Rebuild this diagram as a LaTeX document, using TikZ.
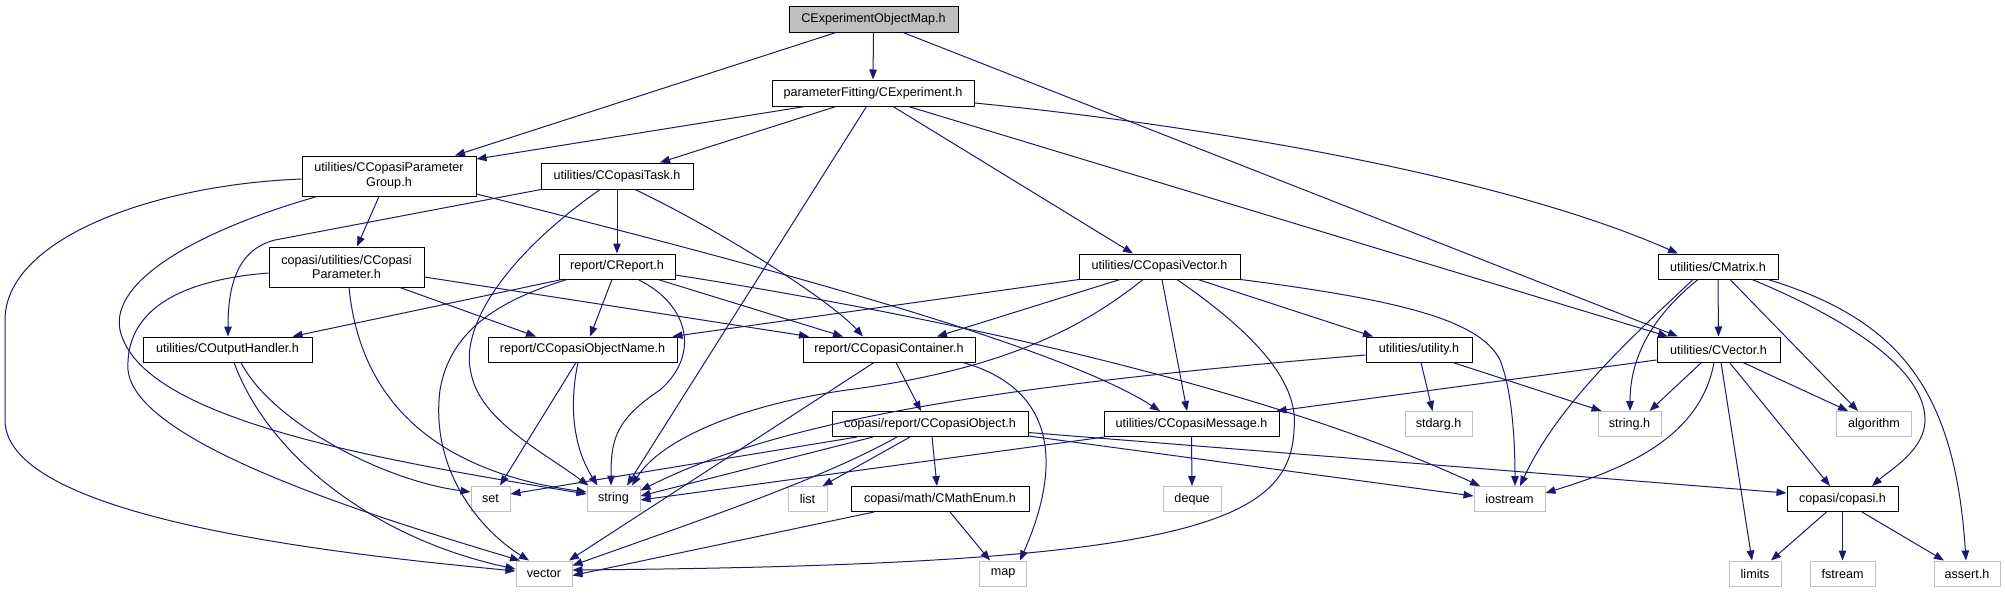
\documentclass[tikz,border=0pt]{standalone}
\usepackage{fontspec}
\setmainfont{Liberation Sans}
\usetikzlibrary{arrows.meta}
\definecolor{edgeblue}{HTML}{191970}
\definecolor{leafgray}{HTML}{BFBFBF}
\definecolor{topfill}{HTML}{BFBFBF}
\newcommand{\dgfont}{\fontsize{12.6}{14.7}\selectfont}
\tikzset{
  box/.style={draw=black, line width=1pt, fill=white, inner sep=0pt, font=\dgfont, align=center, minimum height=25pt},
  leaf/.style={box, draw=leafgray},
  e/.style={draw=edgeblue, line width=1pt, -{Triangle[length=10pt,width=7.5pt]}},
}
\begin{document}
\begin{tikzpicture}[x=1pt,y=-1pt]
\path[use as bounding box, fill=white] (0,0) rectangle (2005,592);
% nodes
\node[box, fill=topfill, minimum width=169pt, minimum height=26pt] (top) at (873.5,19) {CExperimentObjectMap.h};
\node[box, minimum width=202pt, minimum height=26pt] (exp) at (873,93) {parameterFitting/CExperiment.h};
\node[box, minimum width=174pt, minimum height=40pt] (pg) at (389,176) {utilities/CCopasiParameter\\Group.h};
\node[box, minimum width=152pt, minimum height=26pt] (task) at (617,176) {utilities/CCopasiTask.h};
\node[box, minimum width=155pt, minimum height=40pt] (param) at (346.5,267) {copasi/utilities/CCopasi\\Parameter.h};
\node[box, minimum width=116pt] (report) at (617,266.5) {report/CReport.h};
\node[box, minimum width=161pt] (cvec) at (1159.5,266.5) {utilities/CCopasiVector.h};
\node[box, minimum width=120pt] (cmat) at (1718,266.5) {utilities/CMatrix.h};
\node[box, minimum width=169pt] (outh) at (227.5,349.5) {utilities/COutputHandler.h};
\node[box, minimum width=189pt] (objname) at (582.5,349.5) {report/CCopasiObjectName.h};
\node[box, minimum width=172pt] (cont) at (889,349.5) {report/CCopasiContainer.h};
\node[box, minimum width=106pt] (util) at (1419,349.5) {utilities/utility.h};
\node[box, minimum width=123pt] (cvector) at (1718.5,349.5) {utilities/CVector.h};
\node[box, minimum width=196pt] (cobj) at (930,424) {copasi/report/CCopasiObject.h};
\node[box, minimum width=175pt] (msg) at (1191.5,424) {utilities/CCopasiMessage.h};
\node[box, minimum width=178pt] (mathenum) at (940,499) {copasi/math/CMathEnum.h};
\node[box, minimum width=111pt] (copasih) at (1842.5,499) {copasi/copasi.h};
\node[leaf, minimum width=39pt] (set) at (490.5,498.5) {set};
\node[leaf, minimum width=53pt] (string) at (613.5,498.5) {string};
\node[leaf, minimum width=56pt] (vector) at (544,573.5) {vector};
\node[leaf, minimum width=39pt] (list) at (807.5,499) {list};
\node[leaf, minimum width=58pt] (deque) at (1192,499) {deque};
\node[leaf, minimum width=47pt] (map) at (1003,573.5) {map};
\node[leaf, minimum width=67pt] (stdarg) at (1438.5,424) {stdarg.h};
\node[leaf, minimum width=63pt] (stringh) at (1629.5,424) {string.h};
\node[leaf, minimum width=75pt] (algorithm) at (1874,424) {algorithm};
\node[leaf, minimum width=71pt] (iostream) at (1509.5,499) {iostream};
\node[leaf, minimum width=52pt] (limits) at (1755,573.5) {limits};
\node[leaf, minimum width=65pt] (fstream) at (1842.5,573.5) {fstream};
\node[leaf, minimum width=66pt] (assert) at (1967,573.5) {assert.h};
% top
\draw[e] ([xshift=-37.5pt]top.south) -- ([xshift=66pt]pg.north);
\draw[e] (top.south) -- (exp.north);
\draw[e] ([xshift=29.5pt]top.south) -- ([xshift=-40.5pt]cvector.north);
% exp
\draw[e] ([xshift=-68pt]exp.south) -- ([yshift=17pt]pg.east);
\draw[e] ([xshift=-37pt]exp.south) -- ([xshift=43pt]task.north);
\draw[e] ([xshift=-6.5pt]exp.south) -- ([xshift=13.5pt]string.north);
\draw[e] ([xshift=20pt]exp.south) -- ([xshift=-26.5pt]cvec.north);
\draw[e] ([xshift=35.5pt]exp.south) -- ([xshift=-50.5pt]cvector.north);
\draw[e] ([yshift=-10pt]exp.east) .. controls (1200,125) and (1500,175) .. ([xshift=-40pt]cmat.north);
% pg
\draw[e] ([yshift=-3pt]pg.west) .. controls (150,185) and (5,240) .. (5,320) -- (5,420) .. controls (5,520) and (350,555) .. ([yshift=2.5pt]vector.west);
\draw[e] ([xshift=-72pt]pg.south) .. controls (200,230) and (110,280) .. (120,330) .. controls (140,420) and (380,460) .. ([yshift=4.5pt]string.west);
\draw[e] ([xshift=-10pt]pg.south) -- ([xshift=10.5pt]param.north);
\draw[e] ([yshift=-18pt]pg.east) .. controls (700,250) and (1050,340) .. ([xshift=-31.5pt]msg.north);
% task
\draw[e] ([xshift=-76pt]task.south) -- (275,240) .. controls (235,250) and (228,290) .. ([xshift=0.5pt]outh.north);
\draw[e] ([xshift=-17pt]task.south) .. controls (500,260) and (460,330) .. (471,373) .. controls (480,420) and (540,450) .. ([xshift=-25pt]string.north);
\draw[e] (task.south) -- (report.north);
\draw[e] ([xshift=18pt]task.south) .. controls (720,230) and (830,300) .. ([xshift=-26pt]cont.north);
% param
\draw[e] ([yshift=-6pt]param.west) .. controls (180,280) and (125,310) .. (128,370) .. controls (135,440) and (350,510) .. ([xshift=-24pt]vector.north);
\draw[e] ([xshift=2.5pt]param.south) .. controls (362,420) and (460,475) .. ([yshift=6.5pt]string.west);
\draw[e] ([xshift=53.5pt]param.south) -- ([xshift=-46.5pt]objname.north);
\draw[e] ([yshift=-10pt]param.east) -- ([xshift=-80pt]cont.north);
% report
\draw[e] ([xshift=-55pt]report.south) -- ([xshift=65pt]outh.north);
\draw[e] ([xshift=-50pt]report.south) .. controls (500,300) and (450,330) .. (440,390) .. controls (430,470) and (480,530) .. ([xshift=-15pt]vector.north);
\draw[e] ([xshift=21pt]report.south) .. controls (690,305) and (700,355) .. (660,390) .. controls (615,420) and (611,440) .. ([xshift=-2.5pt]string.north);
\draw[e] ([xshift=-5pt]report.south) -- ([xshift=7.5pt]objname.north);
\draw[e] ([xshift=41pt]report.south) -- ([xshift=-46pt]cont.north);
\draw[e] ([yshift=-8.5pt]report.east) .. controls (900,310) and (1250,380) .. ([xshift=-29.5pt]iostream.north);
% cvec
\draw[e] ([xshift=-80.5pt]cvec.south) -- ([xshift=90pt]objname.north);
\draw[e] ([xshift=-39.5pt]cvec.south) -- ([xshift=48pt]cont.north);
\draw[e] ([xshift=-16.5pt]cvec.south) .. controls (1080,330) and (1000,370) .. (847,390) .. controls (740,405) and (660,440) .. ([xshift=18.5pt]string.north);
\draw[e] ([xshift=2.5pt]cvec.south) -- ([xshift=-4.5pt]msg.north);
\draw[e] ([xshift=17.5pt]cvec.south) .. controls (1250,330) and (1300,380) .. (1294,430) .. controls (1290,525) and (1180,565) .. ([yshift=3.5pt]vector.east);
\draw[e] ([xshift=38.5pt]cvec.south) -- ([xshift=-46pt]util.north);
\draw[e] (cvec.south east) .. controls (1400,300) and (1480,320) .. (1500,360) .. controls (1512,390) and (1515,440) .. ([xshift=5.5pt]iostream.north);
% cmat
\draw[e] (cmat.south) -- (cvector.north);
\draw[e] ([xshift=-20pt]cmat.south) .. controls (1660,310) and (1630,350) .. ([xshift=0.5pt]stringh.north);
\draw[e] ([xshift=-25pt]cmat.south) .. controls (1640,330) and (1560,400) .. ([xshift=10.5pt]iostream.north);
\draw[e] ([xshift=12pt]cmat.south) -- ([xshift=-16pt]algorithm.north);
\draw[e] ([xshift=34pt]cmat.south) .. controls (1850,320) and (1925,370) .. (1925,420) .. controls (1925,450) and (1890,470) .. ([xshift=29.5pt]copasih.north);
\draw[e] ([xshift=50pt]cmat.south) .. controls (1900,320) and (1955,390) .. ([xshift=-1pt]assert.north);
% outh
\draw[e] ([xshift=13.5pt]outh.south) .. controls (270,420) and (380,480) .. ([yshift=6.5pt]set.west);
\draw[e] ([xshift=6.5pt]outh.south) .. controls (270,460) and (380,540) .. ([yshift=4.5pt]vector.west);
% objname
\draw[e] ([xshift=-6.5pt]objname.south) -- ([xshift=9.5pt]set.north);
\draw[e] ([xshift=-4.5pt]objname.south) .. controls (568,410) and (575,450) .. ([xshift=-16pt]string.north);
% cont
\draw[e] ([xshift=-15pt]cont.south) -- ([xshift=25pt]vector.north);
\draw[e] ([xshift=7pt]cont.south) -- ([xshift=-9pt]cobj.north);
\draw[e] ([xshift=74pt]cont.south) .. controls (1060,390) and (1060,470) .. ([xshift=17pt]map.north);
% util
\draw[e] ([yshift=-5.5pt]util.west) .. controls (1000,385) and (780,420) .. ([yshift=8pt]string.east);
\draw[e] ([xshift=2pt]util.south) -- ([xshift=-6pt]stdarg.north);
\draw[e] ([xshift=34pt]util.south) -- ([xshift=-28pt]stringh.north);
% cvector
\draw[e] ([yshift=-10.5pt]cvector.west) -- ([xshift=85pt]msg.north);
\draw[e] ([xshift=-17pt]cvector.south) -- ([xshift=20pt]stringh.north);
\draw[e] ([xshift=-4.5pt]cvector.south) .. controls (1700,440) and (1620,470) .. ([yshift=6pt]iostream.east);
\draw[e] ([xshift=2.5pt]cvector.south) -- ([xshift=-3pt]limits.north);
\draw[e] ([xshift=11pt]cvector.south) -- ([xshift=-12.5pt]copasih.north);
\draw[e] ([xshift=24.5pt]cvector.south) -- ([xshift=-26pt]algorithm.north);
% cobj
\draw[e] ([xshift=-73pt]cobj.south) -- ([yshift=4.5pt]set.east);
\draw[e] ([xshift=-57pt]cobj.south) -- ([yshift=2.5pt]string.east);
\draw[e] ([xshift=-33pt]cobj.south) .. controls (820,480) and (700,520) .. ([yshift=8pt]vector.east);
\draw[e] ([xshift=-20pt]cobj.south) -- ([xshift=15pt]list.north);
\draw[e] ([xshift=2pt]cobj.south) -- ([xshift=-3pt]mathenum.north);
\draw[e] ([yshift=-12pt]cobj.east) -- ([yshift=3pt]iostream.west);
\draw[e] ([yshift=-8.5pt]cobj.east) -- ([yshift=6pt]copasih.west);
% msg
\draw[e] ([xshift=-87pt]msg.south) -- ([yshift=-1.5pt]string.east);
\draw[e] (msg.south) -- (deque.north);
% mathenum
\draw[e] ([xshift=-66pt]mathenum.south) -- ([yshift=-2pt]vector.east);
\draw[e] ([xshift=10pt]mathenum.south) -- ([xshift=-13pt]map.north);
% copasih
\draw[e] ([xshift=-16pt]copasih.south) -- ([xshift=16pt]limits.north);
\draw[e] (copasih.south) -- (fstream.north);
\draw[e] ([xshift=19.5pt]copasih.south) -- ([xshift=-23pt]assert.north);
\end{tikzpicture}
\end{document}
